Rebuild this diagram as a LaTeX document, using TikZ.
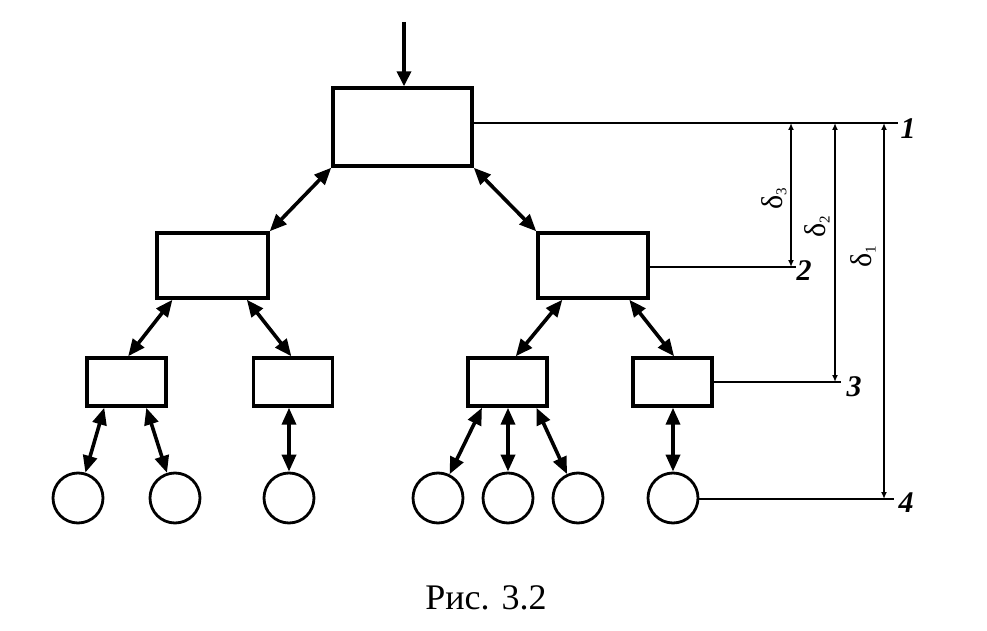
\documentclass[tikz,border=0pt]{standalone}
\usepackage{fontspec}
\setmainfont{Liberation Serif}
\usetikzlibrary{arrows.meta,calc}
\tikzset{
  blk/.style={draw, rectangle, line width=3.4pt, inner sep=0pt},
  leaf/.style={draw, circle, line width=2.8pt, inner sep=0pt, minimum size=50pt},
  link/.style={line width=3.6pt, {Triangle[length=17pt,width=14pt]}-{Triangle[length=17pt,width=14pt]}},
  feed/.style={line width=3.6pt, -{Triangle[length=15pt,width=14pt]}},
  lev/.style={line width=2pt},
  dim/.style={line width=2.2pt, {Latex[length=7pt,width=6pt]}-{Latex[length=7pt,width=6pt]}},
  num/.style={font=\fontsize{30}{32}\selectfont\bfseries\itshape, inner sep=0pt},
  dlt/.style={font=\fontsize{30}{30}\selectfont, inner sep=0pt, rotate=90},
}
\begin{document}
\begin{tikzpicture}[x=1pt,y=-1pt]
\useasboundingbox (0,0) rectangle (987,631);
% boxes
\node[blk, minimum width=139pt, minimum height=78pt] (top) at (402.5,127) {};
\node[blk, minimum width=111pt, minimum height=65pt] (l2a) at (212.5,265.5) {};
\node[blk, minimum width=110pt, minimum height=65pt] (l2b) at (593,265.5) {};
\node[blk, minimum width=79pt, minimum height=48pt] (b1) at (126.5,382) {};
\node[blk, minimum width=79pt, minimum height=48pt] (b2) at (293,382) {};
\node[blk, minimum width=79pt, minimum height=48pt] (b3) at (507.5,382) {};
\node[blk, minimum width=79pt, minimum height=48pt] (b4) at (672.5,382) {};
% leaves
\node[leaf] (c1) at (78,498) {};
\node[leaf] (c2) at (175,498) {};
\node[leaf] (c3) at (289,498) {};
\node[leaf] (c4) at (438,498) {};
\node[leaf] (c5) at (508,498) {};
\node[leaf] (c6) at (578,498) {};
\node[leaf] (c7) at (673,498) {};
% input
\coordinate (in) at (404,22);
\draw[feed] (in) -- (in |- top.north);
% tree connectors
\draw[link] (top.south west) -- (l2a.north east);
\draw[link] (top.south east) -- (l2b.north west);
\draw[link] ($(l2a.south west)!0.15!(l2a.south east)$) -- ($(b1.north west)!0.52!(b1.north east)$);
\draw[link] ($(l2a.south west)!0.80!(l2a.south east)$) -- ($(b2.north west)!0.48!(b2.north east)$);
\draw[link] ($(l2b.south west)!0.23!(l2b.south east)$) -- ($(b3.north west)!0.60!(b3.north east)$);
\draw[link] ($(l2b.south west)!0.82!(l2b.south east)$) -- ($(b4.north west)!0.52!(b4.north east)$);
\draw[link] ($(b1.south west)!0.23!(b1.south east)$) -- (c1);
\draw[link] ($(b1.south west)!0.74!(b1.south east)$) -- (c2);
\draw[link] (b2.south -| c3) -- (c3);
\draw[link] ($(b3.south west)!0.19!(b3.south east)$) -- (c4);
\draw[link] (b3.south -| c5) -- (c5);
\draw[link] ($(b3.south west)!0.85!(b3.south east)$) -- (c6);
\draw[link] (b4.south -| c7) -- (c7);
% level lines
\coordinate (r1) at (898,123);
\coordinate (r2) at (796,267);
\coordinate (r3) at (841,382);
\coordinate (r4) at (894,499);
\draw[lev] (top.east |- r1) -- (r1);
\draw[lev] (l2b.east |- r2) -- (r2);
\draw[lev] (b4.east) -- (r3);
\draw[lev] (c7.east |- r4) -- (r4);
% dimension lines
\coordinate (d3t) at (791,123); \coordinate (d3b) at (791,267);
\coordinate (d2t) at (835,123); \coordinate (d2b) at (835,382);
\coordinate (d1t) at (884,123); \coordinate (d1b) at (884,499);
\draw[dim] (d3t) -- (d3b);
\draw[dim] (d2t) -- (d2b);
\draw[dim] (d1t) -- (d1b);
% labels
\node[num] (n1) at (908,129) {1};
\node[num] (n2) at (804,271) {2};
\node[num] (n3) at (854,387) {3};
\node[num] (n4) at (906,503) {4};
\node[dlt] (e3) at (774,199) {δ\raisebox{-0.3ex}{\fontsize{15}{16}\selectfont 3}};
\node[dlt] (e2) at (817,227) {δ\raisebox{-0.3ex}{\fontsize{15}{16}\selectfont 2}};
\node[dlt] (e1) at (863,257) {δ\raisebox{-0.3ex}{\fontsize{15}{16}\selectfont 1}};
% caption
\node[font=\fontsize{36}{40}\selectfont, inner sep=0pt] (cap) at (486,598) {Рис. 3.2};
\end{tikzpicture}
\end{document}
